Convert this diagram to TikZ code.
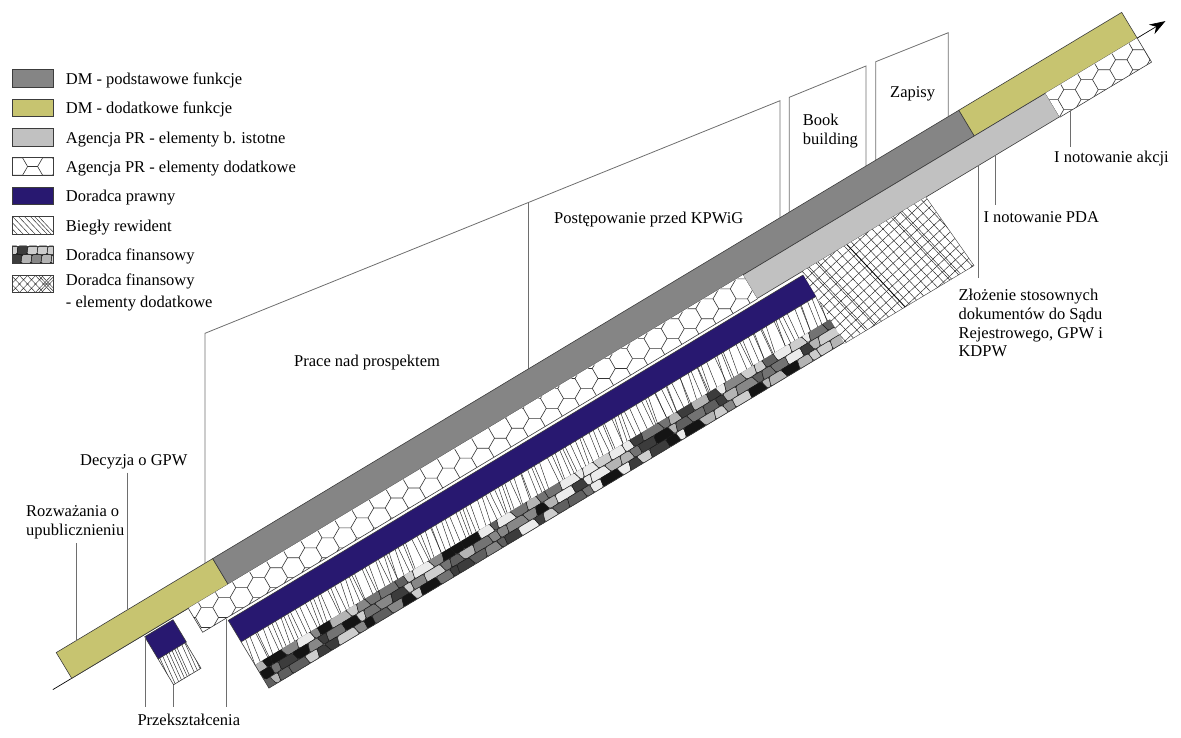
\documentclass[tikz,border=0pt]{standalone}
\usepackage{fontspec}
\setmainfont{Liberation Serif}
\usetikzlibrary{arrows.meta}
\definecolor{dmgray}{RGB}{133,133,133}
\definecolor{dmyel}{RGB}{199,196,112}
\definecolor{prgray}{RGB}{193,193,193}
\definecolor{prawny}{RGB}{40,24,112}
\definecolor{edgec}{RGB}{60,60,60}
\definecolor{wallc}{RGB}{110,110,110}
\definecolor{st1}{RGB}{20,20,20}
\definecolor{st2}{RGB}{60,60,60}
\definecolor{st3}{RGB}{95,95,95}
\definecolor{st4}{RGB}{135,135,135}
\definecolor{st5}{RGB}{180,180,180}
\definecolor{st6}{RGB}{235,235,235}
\definecolor{st7}{RGB}{115,115,115}
\definecolor{st8}{RGB}{205,205,205}
\newcommand\lblfont{\fontsize{16.5}{18.7}\selectfont}
\begin{document}
\begin{tikzpicture}[x=1pt,y=-1pt,
  band/.style={shift={(71.7,678.3)},rotate=31},
  bar/.style={draw=edgec,line width=0.6pt},
  wallline/.style={draw=wallc,line width=0.8pt},
  leader/.style={draw=wallc,line width=0.8pt},
  lbl/.style={inner sep=0pt,font=\lblfont,anchor=base west},
  hexline/.style={draw=black!80,line width=0.6pt},
  hatchline/.style={draw=black!85,line width=0.45pt},
  gridline/.style={draw=black!85,line width=0.45pt},
  stoneline/.style={draw=black!90,line width=0.45pt,rounded corners=1.5pt},
  swatch/.style={draw=edgec,line width=0.6pt}]
\useasboundingbox (0,0) rectangle (1181,738);

% ---------- walls ----------
\draw[wallline] (205,563.2) -- (205,333.3) -- (780,100.7) -- (780,217.8);
\draw[wallline] (528.3,202.5) -- (528.3,369.0);
\draw[wallline] (789.3,212.2) -- (789.3,97.3) -- (866,66) -- (866,166.1);
\draw[wallline] (875.7,160.3) -- (875.7,61.7) -- (948.3,32.7) -- (948.3,116.6);

% ---------- axis ----------
\draw[band,line width=0.7pt,-{Stealth[length=16pt,width=11pt]}] (-22,0) -- (1276,0);

% ---------- top bar ----------
\begin{scope}[band]
 \draw[bar,fill=dmyel] (0,-30) -- (182.5,-30) -- (182.5,0) -- (0,0) -- cycle;
 \draw[bar,fill=dmgray] (182.5,-30) -- (1053,-30) -- (1053,0) -- (182.5,0) -- cycle;
 \draw[bar,fill=dmyel] (1053,-30) -- (1243,-30) -- (1243,0) -- (1053,0) -- cycle;
 \draw[bar,fill=prgray] (783,0) -- (1136,0) -- (1136,27.5) -- (783,27.5) -- cycle;
 \fill[white] (136,0) -- (783,0) -- (783,28) -- (136,28) -- cycle;
 \fill[white] (1136,0) -- (1243,0) -- (1243,28) -- (1136,28) -- cycle;
\end{scope}

% ---------- hexagons ----------
\begin{scope}
 \clip[band] (136,0.5) -- (783,0.5) -- (783,28) -- (136,28) -- cycle;
 \foreach \i in {10,...,47}{
   \pgfmathsetmacro\cx{\i*17.25}
   \pgfmathsetmacro\off{mod(\i,2)*9.96}
   \pgfmathtruncatemacro\ja{floor((737.7-0.6008*\cx-34-\off)/19.92)}
   \pgfmathtruncatemacro\jb{\ja+4}
   \foreach \j in {\ja,...,\jb}{
     \pgfmathsetmacro\cy{\j*19.92+\off}
     \draw[hexline] (\cx-11.5,\cy) -- (\cx-5.75,\cy-9.96) -- (\cx+5.75,\cy-9.96) -- (\cx+11.5,\cy);
   }
 }
\end{scope}
\begin{scope}
 \clip[band] (1136,0.5) -- (1243,0.5) -- (1243,28) -- (1136,28) -- cycle;
 \foreach \i in {59,...,68}{
   \pgfmathsetmacro\cx{\i*17.25}
   \pgfmathsetmacro\off{mod(\i,2)*9.96}
   \pgfmathtruncatemacro\ja{floor((737.7-0.6008*\cx-34-\off)/19.92)}
   \pgfmathtruncatemacro\jb{\ja+4}
   \foreach \j in {\ja,...,\jb}{
     \pgfmathsetmacro\cy{\j*19.92+\off}
     \draw[hexline] (\cx-11.5,\cy) -- (\cx-5.75,\cy-9.96) -- (\cx+5.75,\cy-9.96) -- (\cx+11.5,\cy);
   }
 }
\end{scope}
\begin{scope}[band]
 \draw[bar] (136,0) -- (136,28) -- (783,28);
 \draw[bar] (1136,28) -- (1243,28) -- (1243,0);
\end{scope}

% ---------- legal advisor + auditor ----------
\pgfmathsetseed{7}
\begin{scope}[band]
 \draw[bar,fill=prawny] (164,31) -- (835,31) -- (835,56) -- (164,56) -- cycle;
 \draw[bar,fill=prawny] (84,2) -- (117,2) -- (117,28) -- (84,28) -- cycle;
 \begin{scope}
  \clip (164,56) -- (836,56) -- (836,84) -- (164,84) -- cycle;
  \foreach \k in {0,...,135}{
    \pgfmathsetmacro\uu{164+5*\k+3*rand}
    \pgfmathsetmacro\sl{-5+2.5*rand}
    \draw[hatchline] (\uu,54) -- (\uu+\sl,86);
  }
 \end{scope}
 \draw[bar] (164,56) -- (164,84);
 \begin{scope}
  \clip (84,28) -- (116,28) -- (116,58) -- (84,58) -- cycle;
  \foreach \k in {0,...,11}{
    \pgfmathsetmacro\uu{82+3.6*\k+1.2*rand}
    \draw[hatchline] (\uu,26) -- (\uu-4,60);
  }
 \end{scope}
 \draw[bar] (84,28) -- (84,58) -- (116,58) -- (116,28);

 % ---------- financial advisor (stones) ----------
 \begin{scope}
  \clip (164,83) -- (836,83) -- (836,110) -- (164,110) -- cycle;
  \fill[st3] (164,83) -- (836,83) -- (836,110) -- (164,110) -- cycle;
  \foreach \r in {0,1,2}{
    \pgfmathsetmacro\va{82.5+9.2*\r}
    \pgfmathsetmacro\vb{\va+9.2}
    \foreach \k in {0,...,48}{
      \pgfmathsetmacro\ua{155+14*\k+6*\r+3.5*sin(97*\k+53*\r)}
      \pgfmathsetmacro\ub{155+14*(\k+1)+6*\r+3.5*sin(97*(\k+1)+53*\r)}
      \pgfmathsetmacro\da{3*sin(151*\k+31*\r)}
      \pgfmathsetmacro\db{3*sin(151*(\k+1)+31*\r)}
      \pgfmathrandominteger{\stc}{1}{8}
      \draw[stoneline,fill=st\stc] (\ua,\va) -- (\ub,\va) -- (\ub+\db,\vb) -- (\ua+\da,\vb) -- cycle;
    }
  }
 \end{scope}
 \draw[bar] (164,83) -- (164,110) -- (836,110) -- (836,83);

 % ---------- financial advisor extra (cross-hatch) ----------
 \begin{scope}
  \clip (835,27.5) -- (980,27.5) -- (986,111) -- (835,111) -- cycle;
  \fill[white] (835,27.5) -- (980,27.5) -- (986,111) -- (835,111) -- cycle;
  \begin{scope}[rotate around={12:(910,69)}]
   \foreach \t in {-136,-128,...,136}{
     \draw[gridline] (910+\t,-100) -- (910+\t,240);
     \draw[gridline] (740,69+\t) -- (1080,69+\t);
   }
   \foreach \t in {-58,-46}{\draw[gridline] (910+\t,-100) -- (910+\t,240);}
   \foreach \t in {38,50}{\draw[gridline] (910+\t,-100) -- (910+\t,240);}
   \draw[line width=0.9pt] (897,-100) -- (897,240);
  \end{scope}
 \end{scope}
 \draw[bar,line width=0.4pt] (980,27.5) -- (986,111) -- (835,111);
\end{scope}

% ---------- legend ----------
\draw[swatch,fill=dmgray] (12,69.75) rectangle (53.3,87.25);
\draw[swatch,fill=dmyel] (12,99.1) rectangle (53.3,116.6);
\draw[swatch,fill=prgray] (12,128.45) rectangle (53.3,145.95);
\begin{scope}
 \clip (12,157.8) rectangle (53.3,175.3);
 \foreach \m in {-2,...,2}{
   \pgfmathsetmacro\cx{32.6+15*\m}
   \pgfmathsetmacro\off{mod(\m+2,2)*8.66}
   \foreach \n in {-1,0,1}{
     \pgfmathsetmacro\cy{175.2+17.32*\n+\off}
     \draw[hexline] (\cx-10,\cy) -- (\cx-5,\cy-8.66) -- (\cx+5,\cy-8.66) -- (\cx+10,\cy);
   }
 }
\end{scope}
\draw[swatch] (12,157.8) rectangle (53.3,175.3);
\draw[swatch,fill=prawny] (12,187.15) rectangle (53.3,204.65);
\begin{scope}
 \clip (12,216.5) rectangle (53.3,234);
 \foreach \t in {-6,0,6,12,18,24,30,34,38}{\draw[hatchline] (\t,216) -- (\t+18,235);}
\end{scope}
\draw[swatch] (12,216.5) rectangle (53.3,234);
\pgfmathsetseed{3}
\begin{scope}
 \clip (12,245.85) rectangle (53.3,263.35);
 \fill[st2] (12,245.85) rectangle (53.3,263.35);
 \foreach \r in {0,1}{
   \foreach \k in {0,...,4}{
     \pgfmathsetmacro\xa{8+10*\k+4*\r}
     \pgfmathsetmacro\ya{245.85+8.75*\r}
     \pgfmathrandominteger{\stc}{1}{8}
     \draw[stoneline,fill=st\stc] (\xa,\ya) -- (\xa+10,\ya) -- (\xa+9,\ya+8.75) -- (\xa-1,\ya+8.75) -- cycle;
   }
 }
\end{scope}
\draw[swatch] (12,245.85) rectangle (53.3,263.35);
\begin{scope}
 \clip (12,275.2) rectangle (53.3,292.7);
 \foreach \t in {-6,2,10,18,26,34,37,40}{
   \draw[hatchline] (\t,274) -- (\t+19,294);
   \draw[hatchline] (\t,294) -- (\t+19,274);
 }
\end{scope}
\draw[swatch] (12,275.2) rectangle (53.3,292.7);

\node[lbl] (lg1) at (65.7,84.5) {DM - podstawowe funkcje};
\node[lbl] (lg2) at (65.7,113.9) {DM - dodatkowe funkcje};
\node[lbl] (lg3) at (65.7,143.2) {Agencja PR - elementy b. istotne};
\node[lbl] (lg4) at (65.7,172.6) {Agencja PR - elementy dodatkowe};
\node[lbl] (lg5) at (65.7,201.9) {Doradca prawny};
\node[lbl] (lg6) at (65.7,231.3) {Biegły rewident};
\node[lbl] (lg7) at (65.7,260.6) {Doradca finansowy};
\node[lbl] (lg8a) at (65.7,285.5) {Doradca finansowy};
\node[lbl] (lg8b) at (65.7,307) {- elementy dodatkowe};

% ---------- labels ----------
\node[lbl] (roz1) at (26,516.7) {Rozważania o};
\node[lbl] (roz2) at (26,535) {upublicznieniu};
\node[lbl] (dec) at (80,465) {Decyzja o GPW};
\node[lbl] (prace) at (294,366) {Prace nad prospektem};
\node[lbl] (post) at (554,223.3) {Postępowanie przed KPWiG};
\node[lbl] (book1) at (802.7,126) {Book};
\node[lbl] (book2) at (802.7,144.5) {building};
\node[lbl] (zap) at (890,97.3) {Zapisy};
\node[lbl] (akcji) at (1054,162.7) {I notowanie akcji};
\node[lbl] (pda) at (983.3,222.3) {I notowanie PDA};
\node[lbl] (zl1) at (958.3,300.7) {Złożenie stosownych};
\node[lbl] (zl2) at (958.3,319.3) {dokumentów do Sądu};
\node[lbl] (zl3) at (958.3,338.3) {Rejestrowego, GPW i};
\node[lbl] (zl4) at (958.3,356.7) {KDPW};
\node[lbl] (prz) at (137.3,725) {Przekształcenia};

% ---------- leader lines ----------
\coordinate (rozA) at (76,543); \coordinate (rozB) at (76,640.7);
\coordinate (decA) at (127.7,472.7); \coordinate (decB) at (127.7,609.7);
\coordinate (p1A) at (145,706.7); \coordinate (p1B) at (145,636.7);
\coordinate (p2A) at (173.4,706.7); \coordinate (p2B) at (173.4,684.8);
\coordinate (p3A) at (226.7,706.7); \coordinate (p3B) at (226.7,619);
\coordinate (akA) at (1070.7,147); \coordinate (akB) at (1070.7,110.8);
\coordinate (pdA) at (995,205); \coordinate (pdB) at (995,155);
\coordinate (zlA) at (978.3,278); \coordinate (zlB) at (978.3,165.1);
\draw[leader] (rozA) -- (rozB);
\draw[leader] (decA) -- (decB);
\draw[leader] (p1A) -- (p1B);
\draw[leader] (p2A) -- (p2B);
\draw[leader] (p3A) -- (p3B);
\draw[leader] (akA) -- (akB);
\draw[leader] (pdA) -- (pdB);
\draw[leader] (zlA) -- (zlB);
\end{tikzpicture}
\end{document}
